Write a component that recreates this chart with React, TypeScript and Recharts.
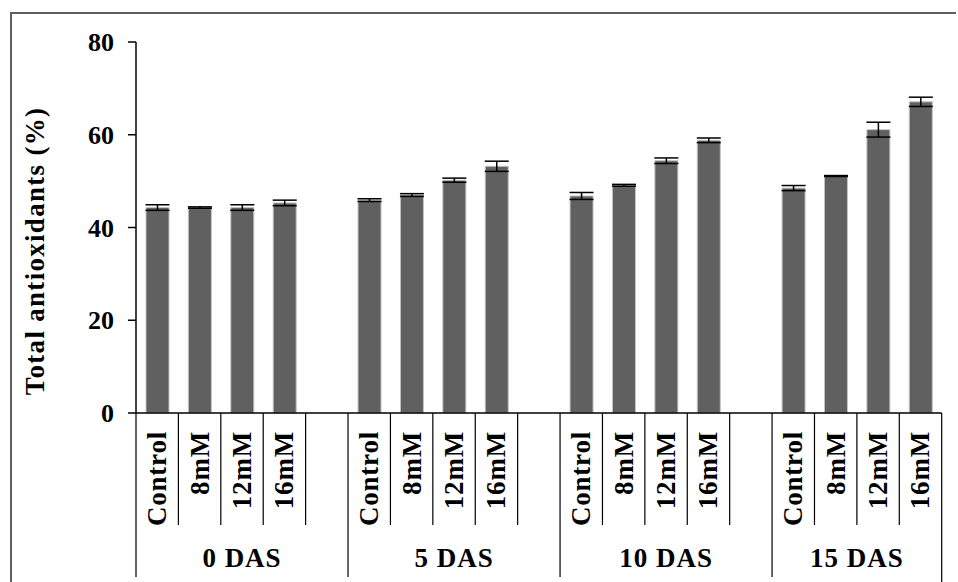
import { Bar, BarChart, ErrorBar, XAxis, YAxis } from "recharts";

// treatment slots per sampling day; "" = empty spacer slot between groups
const treatments = [
  "Control", "8mM", "12mM", "16mM", "",
  "Control", "8mM", "12mM", "16mM", "",
  "Control", "8mM", "12mM", "16mM", "",
  "Control", "8mM", "12mM", "16mM",
];
const antioxidants = [
  44.3, 44.3, 44.3, 45.3, null,
  45.9, 47.0, 50.2, 53.2, null,
  46.8, 49.1, 54.4, 58.8, null,
  48.5, 51.1, 61.1, 67.1,
];
const errors = [
  0.6, 0.15, 0.6, 0.6, null,
  0.3, 0.3, 0.45, 1.1, null,
  0.75, 0.2, 0.6, 0.5, null,
  0.55, 0.1, 1.6, 1.0,
];
const groups = ["0 DAS", "5 DAS", "10 DAS", "15 DAS"];
const groupStarts = [0, 5, 10, 15];
const groupSizes = [5, 5, 5, 4];
const yTicks = [0, 20, 40, 60, 80];

const data = treatments.map((t, i) => ({
  slot: `s${i}`,
  label: t,
  value: antioxidants[i],
  err: errors[i],
}));

const W = 958;
const H = 582;
const PLOT_LEFT = 136;
const PLOT_RIGHT = 941.7;
const PLOT_TOP = 42;
const AXIS_Y = 413;
const SLOT = (PLOT_RIGHT - PLOT_LEFT) / treatments.length;
const FONT = "'Liberation Serif', 'Times New Roman', serif";

function CategoryTick(props: any) {
  const { x, payload } = props;
  const i: number = payload.index;
  const item = data[i];
  const left = x - SLOT / 2;
  const g = groupStarts.indexOf(i);
  const isLast = i === treatments.length - 1;
  return (
    <g>
      <line
        x1={left}
        x2={left}
        y1={AXIS_Y}
        y2={g >= 0 ? 577 : 525}
        stroke="#000"
        strokeWidth={1.2}
      />
      {isLast && (
        <line x1={x + SLOT / 2} x2={x + SLOT / 2} y1={AXIS_Y} y2={582} stroke="#000" strokeWidth={1.2} />
      )}
      {item && item.label && (
        <text
          x={x + 9}
          y={431}
          transform={`rotate(-90, ${x + 9}, 431)`}
          textAnchor="end"
          fontFamily={FONT}
          fontWeight="bold"
          fontSize={27}
          letterSpacing={0.8}
          fill="#000"
        >
          {item.label}
        </text>
      )}
      {g >= 0 && (
        <text
          x={left + (groupSizes[g] * SLOT) / 2}
          y={567}
          textAnchor="middle"
          fontFamily={FONT}
          fontWeight="bold"
          fontSize={27}
          letterSpacing={1}
          fill="#000"
        >
          {groups[g]}
        </text>
      )}
    </g>
  );
}

function YTitle() {
  return (
    <text
      x={44}
      y={251}
      transform="rotate(-90, 44, 251)"
      textAnchor="middle"
      fontFamily={FONT}
      fontWeight="bold"
      fontSize={27}
      letterSpacing={1.3}
      fill="#000"
    >
      Total antioxidants (%)
    </text>
  );
}

export default function App() {
  return (
    <div style={{ position: "relative", width: W, height: H, background: "#fff" }}>
      <style>{`body{margin:0;overflow:hidden}`}</style>
      <div
        style={{
          position: "absolute",
          left: 10,
          top: 12,
          width: 946,
          height: 600,
          borderTop: "2px solid #5f5f5f",
          borderLeft: "2px solid #5f5f5f",
          boxSizing: "border-box",
        }}
      />
      <div style={{ position: "absolute", left: 0, top: 0 }}>
        <BarChart
          width={W}
          height={H}
          data={data}
          margin={{ top: PLOT_TOP, right: W - PLOT_RIGHT, left: 0, bottom: 0 }}
          barSize={23}
        >
          <XAxis
            dataKey="slot"
            interval={0}
            height={H - AXIS_Y}
            axisLine={{ stroke: "#000", strokeWidth: 1.5 }}
            tickLine={false}
            tickSize={0}
            tick={<CategoryTick />}
          />
          <YAxis
            width={PLOT_LEFT}
            domain={[0, 80]}
            ticks={yTicks}
            interval={0}
            tickSize={8}
            tickMargin={14}
            axisLine={{ stroke: "#000", strokeWidth: 1.5 }}
            tickLine={{ stroke: "#000", strokeWidth: 1.5 }}
            tick={{ fontFamily: FONT, fontWeight: "bold", fontSize: 26, fill: "#000" }}
            label={<YTitle />}
          />
          <Bar
            dataKey="value"
            fill="#606060"
            stroke="#c4c4c4"
            strokeWidth={1}
            isAnimationActive={false}
          >
            <ErrorBar dataKey="err" width={12} stroke="#000" strokeWidth={1.5} direction="y" />
          </Bar>
        </BarChart>
      </div>
    </div>
  );
}
